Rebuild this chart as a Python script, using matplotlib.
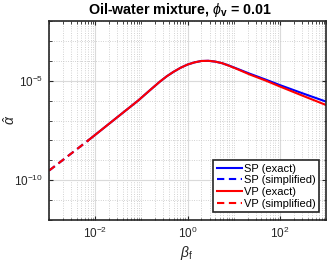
import numpy as np
import matplotlib
matplotlib.use("Agg")
import matplotlib.pyplot as plt
from matplotlib.ticker import FixedLocator, LogLocator, NullFormatter, LogFormatterMathtext

plt.rcParams['font.family'] = ['Liberation Sans', 'DejaVu Sans']
plt.rcParams['mathtext.fontset'] = 'custom'
plt.rcParams['mathtext.rm'] = 'Liberation Sans'
plt.rcParams['mathtext.it'] = 'Liberation Sans:italic'
plt.rcParams['mathtext.bf'] = 'Liberation Sans:bold'

# ---- data (log10 values) ----
simp_logbeta = [-3.0, -2.15]
simp_logalpha = [-9.52, -8.0]

vp_logbeta = [-2.15, -1.61, -1.07, -0.8, -0.6, -0.45, -0.3, -0.15, 0.0, 0.15, 0.3, 0.45,
              0.6, 0.75, 0.9, 1.1, 1.35, 1.7, 2.0, 2.5, 3.0]
vp_logalpha = [-8.0, -7.0, -6.0, -5.45, -5.05, -4.78, -4.55, -4.35, -4.19, -4.08, -4.01, -4.0,
               -4.04, -4.12, -4.25, -4.44, -4.69, -5.0, -5.29, -5.76, -6.22]

sp_logbeta = [-2.15, -1.61, -1.07, -0.8, -0.6, -0.45, -0.3, -0.15, 0.0, 0.15, 0.3, 0.45,
              0.6, 0.75, 0.9, 1.1, 1.35, 1.7, 2.0, 2.5, 3.0]
sp_logalpha = [-8.0, -7.0, -6.0, -5.45, -5.05, -4.78, -4.55, -4.35, -4.19, -4.08, -4.01, -4.0,
               -4.04, -4.12, -4.24, -4.42, -4.65, -4.95, -5.22, -5.64, -6.05]

labels = ['SP (exact)', 'SP (simplified)', 'VP (exact)', 'VP (simplified)']
xticks_major = [1e-2, 1e0, 1e2]
yticks_major = [1e-10, 1e-5]

def p10(a):
    return 10.0 ** np.asarray(a)

fig = plt.figure(figsize=(3.27, 2.64), dpi=100)
ax = fig.add_axes([49/327, 1-220/264, 277/327, 199/264])

dash = (0, (3.5, 2.2))
ax.plot(p10(sp_logbeta), p10(sp_logalpha), color=(0, 0, 1), lw=1.5, label=labels[0])
ax.plot(p10(simp_logbeta), p10(simp_logalpha), color=(0, 0, 1), lw=1.5, ls=dash, label=labels[1])
ax.plot(p10(vp_logbeta), p10(vp_logalpha), color=(1, 0, 0), lw=1.5, label=labels[2])
ax.plot(p10(simp_logbeta), p10(simp_logalpha), color=(1, 0, 0), lw=1.5, ls=dash, label=labels[3])

ax.set_xscale('log')
ax.set_yscale('log')
ax.set_xlim(1e-3, 1e3)
ax.set_ylim(1e-12, 1e-2)

ax.xaxis.set_major_locator(FixedLocator(xticks_major))
ax.xaxis.set_minor_locator(LogLocator(base=10, subs=np.arange(1, 10), numticks=100))
ax.yaxis.set_major_locator(FixedLocator(yticks_major))
ax.yaxis.set_minor_locator(LogLocator(base=10, subs=[1.0], numticks=100))
ax.xaxis.set_major_formatter(LogFormatterMathtext())
ax.yaxis.set_major_formatter(LogFormatterMathtext())
ax.xaxis.set_minor_formatter(NullFormatter())
ax.yaxis.set_minor_formatter(NullFormatter())

ax.grid(True, which='major', color='#dadada', lw=0.8, ls='-')
ax.grid(True, which='minor', color='#c4c4c4', lw=0.6, ls=(0, (1, 1.8)))
ax.set_axisbelow(True)

ax.tick_params(which='both', direction='in', top=True, right=True, colors='#262626',
               labelsize=8.5, labelcolor='#262626')
ax.tick_params(which='major', length=3, width=0.8, pad=4)
ax.tick_params(which='minor', length=1.8, width=0.6)
for s in ax.spines.values():
    s.set_color('#262626')
    s.set_linewidth(1.2)

ax.set_title(r'Oil-water mixture, $\phi_\mathbf{v}$ = 0.01', fontsize=10.3, fontweight='bold',
             color='black', pad=5, x=(180-49)/277)
ax.set_xlabel(r'$\beta_{\rm f}$', fontsize=10, color='#262626')
ax.set_ylabel(r'$\hat{\alpha}$', fontsize=10, color='#262626')
ax.xaxis.set_label_coords((187-49)/277, -(244-220)/199)
ax.yaxis.set_label_coords(-(49-18)/277, (220-120)/199)

leg = ax.legend(loc='lower right', bbox_to_anchor=(0.975, 0.04), borderaxespad=0,
                fontsize=8, handlelength=2.3, handletextpad=0.15, labelspacing=0.15,
                borderpad=0.3, fancybox=False, framealpha=1, edgecolor='#262626')
leg.get_frame().set_linewidth(1.2)

fig.savefig('out.png', dpi=100)
